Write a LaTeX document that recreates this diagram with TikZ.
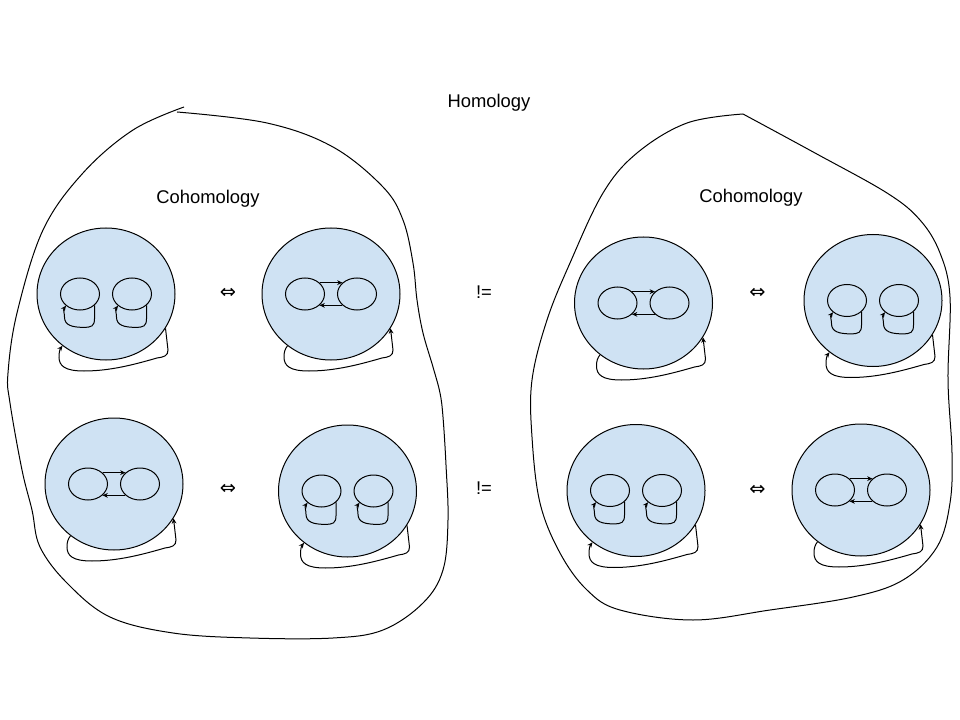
\documentclass[tikz,border=0pt]{standalone}
\usepackage{fontspec}
\setmainfont{Liberation Sans}
\newfontfamily\symfont{DejaVu Sans}
\usetikzlibrary{shapes.geometric,arrows.meta}
\definecolor{cellblue}{HTML}{CFE2F3}
\tikzset{
  cell/.style={ellipse, draw=black, fill=cellblue, minimum width=103.5pt, minimum height=99pt, inner sep=0pt},
  blob/.style={ellipse, draw=black, minimum width=29.25pt, minimum height=24pt, inner sep=0pt},
  tip/.style={-{Stealth[length=4pt,width=3.6pt]}},
  revtip/.style={{Stealth[length=4pt,width=3.6pt]}-},
  title/.style={font=\fontsize{13.8}{16}\selectfont, anchor=base, inner sep=0pt},
  sym/.style={font=\symfont\fontsize{14.5}{16}\selectfont, anchor=base, inner sep=0pt},
  neq/.style={font=\fontsize{13.8}{16}\selectfont, anchor=base, inner sep=0pt},
  outline/.style={draw=black},
  pics/loops/.style={code={
    \node[cell] (-c) at (0,0) {};
    \node[blob] (-a) at (-26,0) {};
    \node[blob] (-b) at (26,0) {};
    \draw[tip] (-a.-38) -- ++(0,13) .. controls +(0,8) and +(8,0) .. ++(-11,9)
      .. controls +(-11,0) and +(0,8) .. ++(-19,-10) .. controls +(0,-4) and +(-3,4) .. (-a.-140);
    \draw[tip] (-b.-38) -- ++(0,13) .. controls +(0,8) and +(8,0) .. ++(-11,9)
      .. controls +(-11,0) and +(0,8) .. ++(-19,-10) .. controls +(0,-4) and +(-3,4) .. (-b.-140);
    \draw[tip] (-c.-30) -- (62,56) .. controls (62,62) and (58,63) .. (51,64)
      .. controls (30,70) and (5,77) .. (-22,77) .. controls (-41,77) and (-47,72) .. (-47,63)
      .. controls (-47,58) and (-46,55) .. (-c.-130);
  }},
  pics/linked/.style={code={
    \node[cell] (-c) at (0,0) {};
    \node[blob] (-a) at (-26,0) {};
    \node[blob] (-b) at (26,0) {};
    \draw[tip] (-a.38) -- (-b.142);
    \draw[tip] (-b.-142) -- (-a.-38);
    \draw[revtip] (-c.-30) -- (62,56) .. controls (62,62) and (58,63) .. (51,64)
      .. controls (30,70) and (5,77) .. (-22,77) .. controls (-41,77) and (-47,72) .. (-47,63)
      .. controls (-47,58) and (-46,55) .. (-c.-130);
  }},
}
\begin{document}
\begin{tikzpicture}[x=0.75pt,y=-0.75pt,line width=0.75pt]
\fill[white] (0,0) rectangle (960,720);
\useasboundingbox (0,0) rectangle (960,720);

% outlines
\draw[outline] plot[smooth,tension=0.6] coordinates {(177,112) (267,123) (333,147) (383,187) (403,220) (413,263) (417,300) (423,333) (433,367) (440,393) (443,417) (446,465) (448,520) (443,570) (423,603) (383,630) (333,638) (250,638) (173,633) (110,617) (67,583) (40,547) (32,510) (22,470) (10,403) (8,373) (17,313) (43,230) (83,173) (133,130) (184,107)};
\draw[outline] plot[smooth,tension=0.6] coordinates {(743,114) (815,153) (887,193) (920,220) (940,253) (950,297) (948,380) (952,453) (950,503) (937,547) (903,580) (853,597) (770,610) (693,620) (620,610) (587,590) (560,553) (540,503) (532,437) (532,380) (547,320) (570,263) (603,193) (637,153) (687,123) (743,114)};

% texts
\node[title] (hom) at (489,108) {Homology};
\node[title] (coh1) at (208,204) {Cohomology};
\node[title] (coh2) at (751,203) {Cohomology};
\node[sym] (eq1) at (228,299) {⇔};
\node[sym] (eq2) at (228,494.5) {⇔};
\node[sym] (eq3) at (757.5,299) {⇔};
\node[sym] (eq4) at (757.5,495) {⇔};
\node[neq] (ne1) at (484,298) {!=};
\node[neq] (ne2) at (484,494) {!=};

% cells
\pic (c1) at (106,294) {loops};
\pic (c2) at (331,294) {linked};
\pic (c3) at (114,484) {linked};
\pic (c4) at (347.5,491) {loops};
\pic (c5) at (643.5,303) {linked};
\pic (c6) at (873,300.5) {loops};
\pic (c7) at (636,490.5) {loops};
\pic (c8) at (861,490) {linked};
\end{tikzpicture}
\end{document}
